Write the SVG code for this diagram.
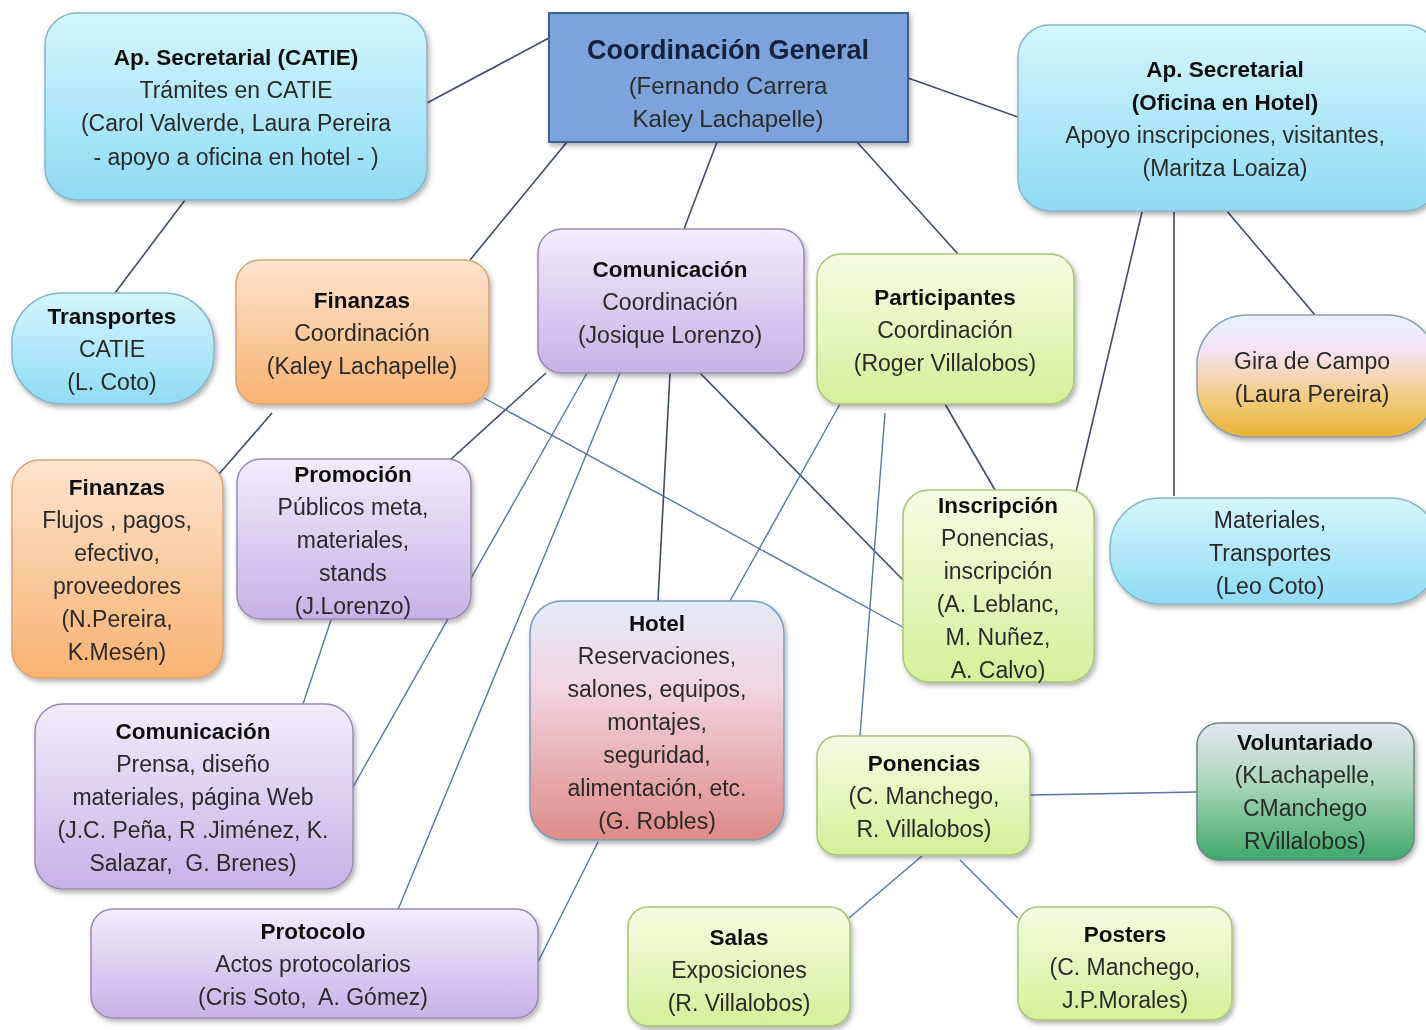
<svg xmlns="http://www.w3.org/2000/svg" width="1426" height="1030" viewBox="0 0 1426 1030">
<defs>
<linearGradient id="gCyan" x1="0" y1="0" x2="0" y2="1"><stop offset="0" stop-color="#d4f5fd"/><stop offset="1" stop-color="#8fdbf3"/></linearGradient>
<linearGradient id="gOrange" x1="0" y1="0" x2="0" y2="1"><stop offset="0" stop-color="#fde4cf"/><stop offset="1" stop-color="#f8b270"/></linearGradient>
<linearGradient id="gPurple" x1="0" y1="0" x2="0" y2="1"><stop offset="0" stop-color="#f2ecfb"/><stop offset="1" stop-color="#c6b2e6"/></linearGradient>
<linearGradient id="gGreen" x1="0" y1="0" x2="0" y2="1"><stop offset="0" stop-color="#f6fce3"/><stop offset="1" stop-color="#d5ef98"/></linearGradient>
<linearGradient id="gGira" x1="0" y1="0" x2="0" y2="1"><stop offset="0" stop-color="#e6f2fb"/><stop offset="0.3" stop-color="#f5e2f3"/><stop offset="0.65" stop-color="#f2cd86"/><stop offset="1" stop-color="#e9b232"/></linearGradient>
<linearGradient id="gHotel" x1="0" y1="0" x2="0" y2="1"><stop offset="0" stop-color="#e2ebf7"/><stop offset="0.35" stop-color="#f1d6e2"/><stop offset="1" stop-color="#df8a88"/></linearGradient>
<linearGradient id="gVol" x1="0" y1="0" x2="0" y2="1"><stop offset="0" stop-color="#e4e7f2"/><stop offset="0.45" stop-color="#a9d6ba"/><stop offset="1" stop-color="#3ea869"/></linearGradient>
<filter id="sh" x="-10%" y="-10%" width="125%" height="130%"><feDropShadow dx="2" dy="3" stdDeviation="2.5" flood-color="#000" flood-opacity="0.3"/></filter>
</defs>
<style>
text{font-family:"Liberation Sans",Arial,sans-serif;font-size:23px;fill:#2a2a2a;text-anchor:middle;white-space:pre}
.b{font-weight:bold;fill:#111;font-size:22.5px}
.big{font-size:27px;fill:#13203a}
.cy{fill:url(#gCyan);stroke:#86b6c6;stroke-width:1.5}
.or{fill:url(#gOrange);stroke:#d7a274;stroke-width:1.5}
.pu{fill:url(#gPurple);stroke:#9a8ab4;stroke-width:1.5}
.gr{fill:url(#gGreen);stroke:#a8c47a;stroke-width:1.5}
.n{filter:url(#sh)}
.c line{stroke:#3e4c69;stroke-width:1.6;fill:none}
.c line.l{stroke:#5676a8;stroke-width:1.4}
</style>
<rect width="1426" height="1030" fill="#ffffff"/>
<g class="c" id="connectors">
<line x1="549" y1="38" x2="427" y2="103"/>
<line x1="908" y1="78" x2="1018" y2="117"/>
<line x1="567" y1="142" x2="470" y2="260"/>
<line x1="717" y1="142" x2="684" y2="229"/>
<line x1="857" y1="142" x2="958" y2="254"/>
<line x1="185" y1="200" x2="115" y2="293"/>
<line x1="272" y1="413" x2="219" y2="474"/>
<line x1="546" y1="373" x2="449" y2="461"/>
<line class="l" x1="484" y1="398" x2="908" y2="630"/>
<line x1="700" y1="373" x2="903" y2="580"/>
<line x1="670" y1="373" x2="658" y2="601"/>
<line class="l" x1="587" y1="373" x2="353" y2="787"/>
<line class="l" x1="620" y1="373" x2="397" y2="912"/>
<line class="l" x1="331" y1="620" x2="303" y2="704"/>
<line class="l" x1="840" y1="404" x2="730" y2="601"/>
<line class="l" x1="885" y1="413" x2="860" y2="736"/>
<line x1="945" y1="404" x2="995" y2="490"/>
<line x1="1142" y1="212" x2="1076" y2="492"/>
<line x1="1174" y1="212" x2="1174" y2="496"/>
<line x1="1226" y1="210" x2="1315" y2="315"/>
<line class="l" x1="598" y1="842" x2="538" y2="962"/>
<line class="l" x1="1030" y1="795" x2="1197" y2="792"/>
<line class="l" x1="922" y1="856" x2="849" y2="918"/>
<line class="l" x1="960" y1="860" x2="1018" y2="918"/>
</g>
<g id="apsec-catie" class="n"><rect class="cy" x="45" y="13" width="382" height="187" rx="32"/>
<text class="b" x="236" y="65">Ap. Secretarial (CATIE)</text><text x="236" y="98">Trámites en CATIE</text><text x="236" y="131">(Carol Valverde, Laura Pereira</text><text x="236" y="165">- apoyo a oficina en hotel - )</text></g>
<g id="coord-general" class="n"><rect x="549" y="13" width="359" height="129" fill="#7ba4da" stroke="#3a5e90" stroke-width="2"/>
<text class="b big" x="728" y="59">Coordinación General</text><text x="728" y="94" style="font-size:24px">(Fernando Carrera</text><text x="728" y="127" style="font-size:24px">Kaley Lachapelle)</text></g>
<g id="apsec-hotel" class="n"><rect class="cy" x="1018" y="25" width="420" height="186" rx="32"/>
<text class="b" x="1225" y="77">Ap. Secretarial</text><text class="b" x="1225" y="110">(Oficina en Hotel)</text><text x="1225" y="143">Apoyo inscripciones, visitantes,</text><text x="1225" y="176">(Maritza Loaiza)</text></g>
<g id="transportes" class="n"><rect class="cy" x="12" y="293" width="202" height="111" rx="50"/>
<text class="b" x="112" y="324">Transportes</text><text x="112" y="357">CATIE</text><text x="112" y="390">(L. Coto)</text></g>
<g id="finanzas-coord" class="n"><rect class="or" x="236" y="260" width="253" height="144" rx="24"/>
<text class="b" x="362" y="308">Finanzas</text><text x="362" y="341">Coordinación</text><text x="362" y="374">(Kaley Lachapelle)</text></g>
<g id="comunicacion-coord" class="n"><rect class="pu" x="538" y="229" width="266" height="144" rx="24"/>
<text class="b" x="670" y="277">Comunicación</text><text x="670" y="310">Coordinación</text><text x="670" y="343">(Josique Lorenzo)</text></g>
<g id="participantes" class="n"><rect class="gr" x="817" y="254" width="257" height="150" rx="24"/>
<text class="b" x="945" y="305">Participantes</text><text x="945" y="338">Coordinación</text><text x="945" y="371">(Roger Villalobos)</text></g>
<g id="gira" class="n"><rect x="1197" y="315" width="240" height="122" rx="50" fill="url(#gGira)" stroke="#8aa0b0" stroke-width="1.5"/>
<text x="1312" y="369">Gira de Campo</text><text x="1312" y="402">(Laura Pereira)</text></g>
<g id="finanzas-detalle" class="n"><rect class="or" x="12" y="460" width="211" height="218" rx="28"/>
<text class="b" x="117" y="495">Finanzas</text><text x="117" y="528">Flujos , pagos,</text><text x="117" y="561">efectivo,</text><text x="117" y="594">proveedores</text><text x="117" y="627">(N.Pereira,</text><text x="117" y="660">K.Mesén)</text></g>
<g id="promocion" class="n"><rect class="pu" x="237" y="459" width="234" height="160" rx="24"/>
<text class="b" x="353" y="482">Promoción</text><text x="353" y="515">Públicos meta,</text><text x="353" y="548">materiales,</text><text x="353" y="581">stands</text><text x="353" y="614">(J.Lorenzo)</text></g>
<g id="inscripcion" class="n"><rect class="gr" x="903" y="490" width="191" height="192" rx="26"/>
<text class="b" x="998" y="513">Inscripción</text><text x="998" y="546">Ponencias,</text><text x="998" y="579">inscripción</text><text x="998" y="612">(A. Leblanc,</text><text x="998" y="645">M. Nuñez,</text><text x="998" y="678">A. Calvo)</text></g>
<g id="materiales" class="n"><rect class="cy" x="1110" y="498" width="330" height="106" rx="50"/>
<text x="1270" y="528">Materiales,</text><text x="1270" y="561">Transportes</text><text x="1270" y="594">(Leo Coto)</text></g>
<g id="hotel" class="n"><rect x="530" y="601" width="254" height="239" rx="32" fill="url(#gHotel)" stroke="#7a9dbd" stroke-width="1.5"/>
<text class="b" x="657" y="631">Hotel</text><text x="657" y="664">Reservaciones,</text><text x="657" y="697">salones, equipos,</text><text x="657" y="730">montajes,</text><text x="657" y="763">seguridad,</text><text x="657" y="796">alimentación, etc.</text><text x="657" y="829">(G. Robles)</text></g>
<g id="comunicacion-detalle" class="n"><rect class="pu" x="35" y="704" width="318" height="185" rx="28"/>
<text class="b" x="193" y="739">Comunicación</text><text x="193" y="772">Prensa, diseño</text><text x="193" y="805">materiales, página Web</text><text x="193" y="838">(J.C. Peña, R .Jiménez, K.</text><text x="193" y="871">Salazar,  G. Brenes)</text></g>
<g id="ponencias" class="n"><rect class="gr" x="817" y="736" width="213" height="119" rx="20"/>
<text class="b" x="924" y="771">Ponencias</text><text x="924" y="804">(C. Manchego,</text><text x="924" y="837">R. Villalobos)</text></g>
<g id="voluntariado" class="n"><rect x="1197" y="723" width="217" height="137" rx="22" fill="url(#gVol)" stroke="#6b8780" stroke-width="1.5"/>
<text class="b" x="1305" y="750">Voluntariado</text><text x="1305" y="783">(KLachapelle,</text><text x="1305" y="816">CManchego</text><text x="1305" y="849">RVillalobos)</text></g>
<g id="protocolo" class="n"><rect class="pu" x="91" y="909" width="447" height="109" rx="22"/>
<text class="b" x="313" y="939">Protocolo</text><text x="313" y="972">Actos protocolarios</text><text x="313" y="1005">(Cris Soto,  A. Gómez)</text></g>
<g id="salas" class="n"><rect class="gr" x="628" y="907" width="222" height="119" rx="20"/>
<text class="b" x="739" y="945">Salas</text><text x="739" y="978">Exposiciones</text><text x="739" y="1011">(R. Villalobos)</text></g>
<g id="posters" class="n"><rect class="gr" x="1018" y="907" width="214" height="113" rx="20"/>
<text class="b" x="1125" y="942">Posters</text><text x="1125" y="975">(C. Manchego,</text><text x="1125" y="1008">J.P.Morales)</text></g>
</svg>
